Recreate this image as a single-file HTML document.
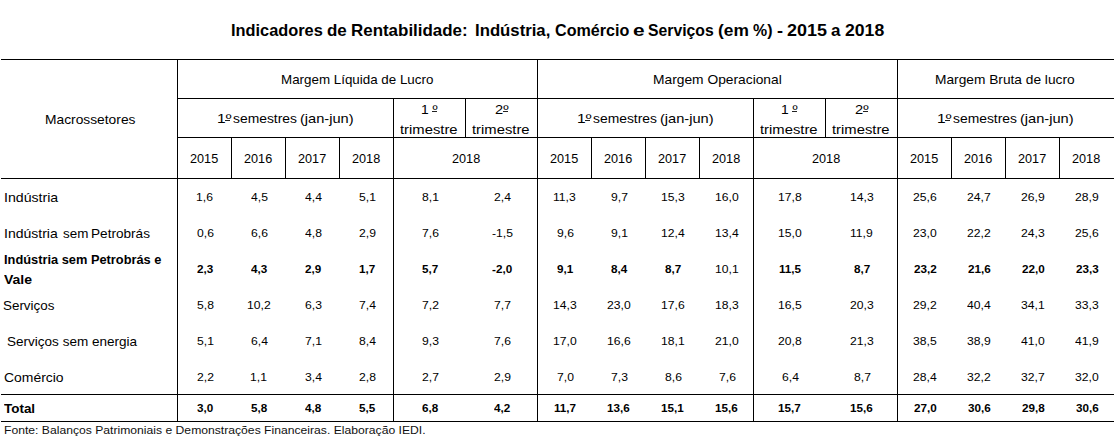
<!DOCTYPE html>
<html lang="pt"><head><meta charset="utf-8"><title>Indicadores de Rentabilidade</title>
<style>
html,body{margin:0;padding:0;background:#fff}
#c{position:relative;width:1114px;height:439px;overflow:hidden;background:#fff;font-family:"Liberation Sans",sans-serif;color:#000}
.h,.v{position:absolute;background:#000}
.h{height:1px}
.v{width:1px}
.t{position:absolute;white-space:pre;line-height:1;display:block;transform-origin:0 50%}
.b{font-weight:700}
</style></head><body>
<div id="c">
<div class="h" style="left:1px;top:59px;width:1113px"></div>
<div class="h" style="left:177px;top:98px;width:937px"></div>
<div class="h" style="left:177px;top:137px;width:937px"></div>
<div class="h" style="left:1px;top:178px;width:1113px"></div>
<div class="h" style="left:1px;top:394px;width:1113px"></div>
<div class="h" style="left:1px;top:421px;width:1113px"></div>
<div class="v" style="left:177px;top:59px;height:363px"></div>
<div class="v" style="left:537px;top:59px;height:363px"></div>
<div class="v" style="left:897px;top:59px;height:363px"></div>
<div class="v" style="left:393px;top:98px;height:324px"></div>
<div class="v" style="left:753px;top:98px;height:324px"></div>
<div class="v" style="left:465px;top:98px;height:40px"></div>
<div class="v" style="left:825px;top:98px;height:40px"></div>
<div class="v" style="left:231px;top:137px;height:42px"></div>
<div class="v" style="left:285px;top:137px;height:42px"></div>
<div class="v" style="left:339px;top:137px;height:42px"></div>
<div class="v" style="left:591px;top:137px;height:42px"></div>
<div class="v" style="left:645px;top:137px;height:42px"></div>
<div class="v" style="left:699px;top:137px;height:42px"></div>
<div class="v" style="left:951px;top:137px;height:42px"></div>
<div class="v" style="left:1005px;top:137px;height:42px"></div>
<div class="v" style="left:1059px;top:137px;height:42px"></div>
<div class="h" style="left:225.2px;top:120px;width:4.6px;background:#222"></div>
<div class="h" style="left:585.2px;top:120px;width:4.6px;background:#222"></div>
<div class="h" style="left:945.2px;top:120px;width:4.6px;background:#222"></div>
<div class="h" style="left:431.8px;top:111px;width:5.0px;background:#222"></div>
<div class="h" style="left:503.0px;top:111px;width:5.0px;background:#222"></div>
<div class="h" style="left:791.8px;top:111px;width:5.0px;background:#222"></div>
<div class="h" style="left:863.0px;top:111px;width:5.0px;background:#222"></div>
<div class="t b" style="left:230.51px;top:22.03px;font-size:16.5px;transform:scaleX(0.9912);">Indicadores</div>
<div class="t b" style="left:326.93px;top:22.03px;font-size:16.5px;transform:scaleX(1.0278);">de</div>
<div class="t b" style="left:350.77px;top:22.03px;font-size:16.5px;transform:scaleX(1.0261);">Rentabilidade:</div>
<div class="t b" style="left:475.09px;top:22.03px;font-size:16.5px;transform:scaleX(1.0145);">Indústria,</div>
<div class="t b" style="left:555.37px;top:22.03px;font-size:16.5px;transform:scaleX(0.9766);">Comércio</div>
<div class="t b" style="left:632.55px;top:22.03px;font-size:16.5px;transform:scaleX(1.2645);">e</div>
<div class="t b" style="left:648.02px;top:22.03px;font-size:16.5px;transform:scaleX(0.9541);">Serviços</div>
<div class="t b" style="left:717.91px;top:22.03px;font-size:16.5px;transform:scaleX(1.0509);">(em</div>
<div class="t b" style="left:752.72px;top:22.03px;font-size:16.5px;transform:scaleX(0.9653);">%)</div>
<div class="t b" style="left:777.27px;top:22.03px;font-size:16.5px;transform:scaleX(1.1000);">-</div>
<div class="t b" style="left:787.26px;top:22.03px;font-size:16.5px;transform:scaleX(1.0881);">2015</div>
<div class="t b" style="left:830.89px;top:22.03px;font-size:16.5px;transform:scaleX(1.0286);">a</div>
<div class="t b" style="left:844.67px;top:22.03px;font-size:16.5px;transform:scaleX(1.0685);">2018</div>
<div class="t" style="left:44.65px;top:112.83px;font-size:13.2px;transform:scaleX(1.0459);">Macrossetores</div>
<div class="t" style="left:280.89px;top:72.83px;font-size:13.2px;transform:scaleX(1.0138);">Margem Líquida de Lucro</div>
<div class="t" style="left:652.55px;top:72.83px;font-size:13.2px;transform:scaleX(1.0458);">Margem Operacional</div>
<div class="t" style="left:935.06px;top:72.83px;font-size:13.2px;transform:scaleX(1.0408);">Margem Bruta de lucro</div>
<div class="t" style="left:217.02px;top:111.83px;font-size:13.2px;transform:scaleX(1.1818);">1º</div>
<div class="t" style="left:233.27px;top:111.83px;font-size:13.2px;transform:scaleX(1.0510);">semestres</div>
<div class="t" style="left:300.07px;top:111.83px;font-size:13.2px;transform:scaleX(1.1080);">(jan-jun)</div>
<div class="t" style="left:577.02px;top:111.83px;font-size:13.2px;transform:scaleX(1.1818);">1º</div>
<div class="t" style="left:593.27px;top:111.83px;font-size:13.2px;transform:scaleX(1.0510);">semestres</div>
<div class="t" style="left:660.07px;top:111.83px;font-size:13.2px;transform:scaleX(1.1080);">(jan-jun)</div>
<div class="t" style="left:937.02px;top:111.83px;font-size:13.2px;transform:scaleX(1.1818);">1º</div>
<div class="t" style="left:953.27px;top:111.83px;font-size:13.2px;transform:scaleX(1.0510);">semestres</div>
<div class="t" style="left:1020.07px;top:111.83px;font-size:13.2px;transform:scaleX(1.1080);">(jan-jun)</div>
<div class="t" style="left:420.65px;top:102.83px;font-size:13.2px;transform:scaleX(1.0508);">1 º</div>
<div class="t" style="left:400.42px;top:122.83px;font-size:13.2px;transform:scaleX(1.1228);">trimestre</div>
<div class="t" style="left:494.77px;top:102.83px;font-size:13.2px;transform:scaleX(1.1111);">2º</div>
<div class="t" style="left:472.42px;top:122.83px;font-size:13.2px;transform:scaleX(1.1228);">trimestre</div>
<div class="t" style="left:780.65px;top:102.83px;font-size:13.2px;transform:scaleX(1.0508);">1 º</div>
<div class="t" style="left:760.42px;top:122.83px;font-size:13.2px;transform:scaleX(1.1228);">trimestre</div>
<div class="t" style="left:854.77px;top:102.83px;font-size:13.2px;transform:scaleX(1.1111);">2º</div>
<div class="t" style="left:832.42px;top:122.83px;font-size:13.2px;transform:scaleX(1.1228);">trimestre</div>
<div class="t" style="left:189.76px;top:152.0px;font-size:13.0px;transform:scaleX(0.9750);">2015</div>
<div class="t" style="left:243.76px;top:152.0px;font-size:13.0px;transform:scaleX(0.9750);">2016</div>
<div class="t" style="left:297.76px;top:152.0px;font-size:13.0px;transform:scaleX(0.9750);">2017</div>
<div class="t" style="left:351.76px;top:152.0px;font-size:13.0px;transform:scaleX(0.9750);">2018</div>
<div class="t" style="left:549.76px;top:152.0px;font-size:13.0px;transform:scaleX(0.9750);">2015</div>
<div class="t" style="left:603.76px;top:152.0px;font-size:13.0px;transform:scaleX(0.9750);">2016</div>
<div class="t" style="left:657.76px;top:152.0px;font-size:13.0px;transform:scaleX(0.9750);">2017</div>
<div class="t" style="left:711.76px;top:152.0px;font-size:13.0px;transform:scaleX(0.9750);">2018</div>
<div class="t" style="left:909.76px;top:152.0px;font-size:13.0px;transform:scaleX(0.9750);">2015</div>
<div class="t" style="left:963.76px;top:152.0px;font-size:13.0px;transform:scaleX(0.9750);">2016</div>
<div class="t" style="left:1017.76px;top:152.0px;font-size:13.0px;transform:scaleX(0.9750);">2017</div>
<div class="t" style="left:1071.76px;top:152.0px;font-size:13.0px;transform:scaleX(0.9750);">2018</div>
<div class="t" style="left:451.86px;top:152.0px;font-size:13.0px;transform:scaleX(0.9750);">2018</div>
<div class="t" style="left:811.86px;top:152.0px;font-size:13.0px;transform:scaleX(0.9750);">2018</div>
<div class="t" style="left:4.06px;top:190.83px;font-size:13.2px;transform:scaleX(1.0721);">Indústria</div>
<div class="t" style="left:196.37px;top:192.01px;font-size:11.8px;transform:scaleX(1.0300);">1,6</div>
<div class="t" style="left:250.63px;top:192.01px;font-size:11.8px;transform:scaleX(1.0300);">4,5</div>
<div class="t" style="left:304.63px;top:192.01px;font-size:11.8px;transform:scaleX(1.0300);">4,4</div>
<div class="t" style="left:358.63px;top:192.01px;font-size:11.8px;transform:scaleX(1.0300);">5,1</div>
<div class="t" style="left:421.63px;top:192.01px;font-size:11.8px;transform:scaleX(1.0300);">8,1</div>
<div class="t" style="left:493.50px;top:192.01px;font-size:11.8px;transform:scaleX(1.0300);">2,4</div>
<div class="t" style="left:553.41px;top:192.01px;font-size:11.8px;transform:scaleX(1.0300);">11,3</div>
<div class="t" style="left:610.63px;top:192.01px;font-size:11.8px;transform:scaleX(1.0300);">9,7</div>
<div class="t" style="left:660.90px;top:192.01px;font-size:11.8px;transform:scaleX(1.0300);">15,3</div>
<div class="t" style="left:714.90px;top:192.01px;font-size:11.8px;transform:scaleX(1.0300);">16,0</div>
<div class="t" style="left:777.90px;top:192.01px;font-size:11.8px;transform:scaleX(1.0300);">17,8</div>
<div class="t" style="left:849.90px;top:192.01px;font-size:11.8px;transform:scaleX(1.0300);">14,3</div>
<div class="t" style="left:913.15px;top:192.01px;font-size:11.8px;transform:scaleX(1.0300);">25,6</div>
<div class="t" style="left:967.28px;top:192.01px;font-size:11.8px;transform:scaleX(1.0300);">24,7</div>
<div class="t" style="left:1021.15px;top:192.01px;font-size:11.8px;transform:scaleX(1.0300);">26,9</div>
<div class="t" style="left:1075.15px;top:192.01px;font-size:11.8px;transform:scaleX(1.0300);">28,9</div>
<div class="t" style="left:4.07px;top:226.83px;font-size:13.2px;transform:scaleX(1.0619);">Indústria</div>
<div class="t" style="left:62.59px;top:226.83px;font-size:13.2px;transform:scaleX(1.0170);">sem</div>
<div class="t" style="left:91.47px;top:226.83px;font-size:13.2px;transform:scaleX(1.0314);">Petrobrás</div>
<div class="t" style="left:196.63px;top:228.01px;font-size:11.8px;transform:scaleX(1.0300);">0,6</div>
<div class="t" style="left:250.63px;top:228.01px;font-size:11.8px;transform:scaleX(1.0300);">6,6</div>
<div class="t" style="left:304.76px;top:228.01px;font-size:11.8px;transform:scaleX(1.0300);">4,8</div>
<div class="t" style="left:358.63px;top:228.01px;font-size:11.8px;transform:scaleX(1.0300);">2,9</div>
<div class="t" style="left:421.63px;top:228.01px;font-size:11.8px;transform:scaleX(1.0300);">7,6</div>
<div class="t" style="left:491.57px;top:228.01px;font-size:11.8px;transform:scaleX(1.0300);">-1,5</div>
<div class="t" style="left:556.63px;top:228.01px;font-size:11.8px;transform:scaleX(1.0300);">9,6</div>
<div class="t" style="left:610.63px;top:228.01px;font-size:11.8px;transform:scaleX(1.0300);">9,1</div>
<div class="t" style="left:660.90px;top:228.01px;font-size:11.8px;transform:scaleX(1.0300);">12,4</div>
<div class="t" style="left:714.90px;top:228.01px;font-size:11.8px;transform:scaleX(1.0300);">13,4</div>
<div class="t" style="left:777.90px;top:228.01px;font-size:11.8px;transform:scaleX(1.0300);">15,0</div>
<div class="t" style="left:850.41px;top:228.01px;font-size:11.8px;transform:scaleX(1.0300);">11,9</div>
<div class="t" style="left:913.15px;top:228.01px;font-size:11.8px;transform:scaleX(1.0300);">23,0</div>
<div class="t" style="left:967.28px;top:228.01px;font-size:11.8px;transform:scaleX(1.0300);">22,2</div>
<div class="t" style="left:1021.15px;top:228.01px;font-size:11.8px;transform:scaleX(1.0300);">24,3</div>
<div class="t" style="left:1075.15px;top:228.01px;font-size:11.8px;transform:scaleX(1.0300);">25,6</div>
<div class="t b" style="left:196.83px;top:264.01px;font-size:11.8px;transform:scaleX(0.9900);">2,3</div>
<div class="t b" style="left:250.96px;top:264.01px;font-size:11.8px;transform:scaleX(0.9900);">4,3</div>
<div class="t b" style="left:304.83px;top:264.01px;font-size:11.8px;transform:scaleX(0.9900);">2,9</div>
<div class="t b" style="left:358.71px;top:264.01px;font-size:11.8px;transform:scaleX(0.9900);">1,7</div>
<div class="t b" style="left:421.83px;top:264.01px;font-size:11.8px;transform:scaleX(0.9900);">5,7</div>
<div class="t b" style="left:491.98px;top:264.01px;font-size:11.8px;transform:scaleX(0.9900);">-2,0</div>
<div class="t b" style="left:556.83px;top:264.01px;font-size:11.8px;transform:scaleX(0.9900);">9,1</div>
<div class="t b" style="left:610.71px;top:264.01px;font-size:11.8px;transform:scaleX(0.9900);">8,4</div>
<div class="t b" style="left:664.83px;top:264.01px;font-size:11.8px;transform:scaleX(0.9900);">8,7</div>
<div class="t" style="left:714.90px;top:264.01px;font-size:11.8px;transform:scaleX(1.0300);">10,1</div>
<div class="t b" style="left:778.74px;top:264.01px;font-size:11.8px;transform:scaleX(0.9900);">11,5</div>
<div class="t b" style="left:853.83px;top:264.01px;font-size:11.8px;transform:scaleX(0.9900);">8,7</div>
<div class="t b" style="left:913.62px;top:264.01px;font-size:11.8px;transform:scaleX(0.9900);">23,2</div>
<div class="t b" style="left:967.62px;top:264.01px;font-size:11.8px;transform:scaleX(0.9900);">21,6</div>
<div class="t b" style="left:1021.62px;top:264.01px;font-size:11.8px;transform:scaleX(0.9900);">22,0</div>
<div class="t b" style="left:1075.62px;top:264.01px;font-size:11.8px;transform:scaleX(0.9900);">23,3</div>
<div class="t" style="left:3.24px;top:298.83px;font-size:13.2px;transform:scaleX(1.0152);">Serviços</div>
<div class="t" style="left:196.63px;top:300.01px;font-size:11.8px;transform:scaleX(1.0300);">5,8</div>
<div class="t" style="left:247.03px;top:300.01px;font-size:11.8px;transform:scaleX(1.0300);">10,2</div>
<div class="t" style="left:304.63px;top:300.01px;font-size:11.8px;transform:scaleX(1.0300);">6,3</div>
<div class="t" style="left:358.50px;top:300.01px;font-size:11.8px;transform:scaleX(1.0300);">7,4</div>
<div class="t" style="left:421.63px;top:300.01px;font-size:11.8px;transform:scaleX(1.0300);">7,2</div>
<div class="t" style="left:493.63px;top:300.01px;font-size:11.8px;transform:scaleX(1.0300);">7,7</div>
<div class="t" style="left:552.90px;top:300.01px;font-size:11.8px;transform:scaleX(1.0300);">14,3</div>
<div class="t" style="left:607.15px;top:300.01px;font-size:11.8px;transform:scaleX(1.0300);">23,0</div>
<div class="t" style="left:660.90px;top:300.01px;font-size:11.8px;transform:scaleX(1.0300);">17,6</div>
<div class="t" style="left:714.90px;top:300.01px;font-size:11.8px;transform:scaleX(1.0300);">18,3</div>
<div class="t" style="left:777.90px;top:300.01px;font-size:11.8px;transform:scaleX(1.0300);">16,5</div>
<div class="t" style="left:850.15px;top:300.01px;font-size:11.8px;transform:scaleX(1.0300);">20,3</div>
<div class="t" style="left:913.28px;top:300.01px;font-size:11.8px;transform:scaleX(1.0300);">29,2</div>
<div class="t" style="left:967.28px;top:300.01px;font-size:11.8px;transform:scaleX(1.0300);">40,4</div>
<div class="t" style="left:1021.15px;top:300.01px;font-size:11.8px;transform:scaleX(1.0300);">34,1</div>
<div class="t" style="left:1075.15px;top:300.01px;font-size:11.8px;transform:scaleX(1.0300);">33,3</div>
<div class="t" style="left:6.98px;top:334.83px;font-size:13.2px;transform:scaleX(1.0258);">Serviços sem energia</div>
<div class="t" style="left:196.63px;top:336.01px;font-size:11.8px;transform:scaleX(1.0300);">5,1</div>
<div class="t" style="left:250.50px;top:336.01px;font-size:11.8px;transform:scaleX(1.0300);">6,4</div>
<div class="t" style="left:304.63px;top:336.01px;font-size:11.8px;transform:scaleX(1.0300);">7,1</div>
<div class="t" style="left:358.50px;top:336.01px;font-size:11.8px;transform:scaleX(1.0300);">8,4</div>
<div class="t" style="left:421.63px;top:336.01px;font-size:11.8px;transform:scaleX(1.0300);">9,3</div>
<div class="t" style="left:493.63px;top:336.01px;font-size:11.8px;transform:scaleX(1.0300);">7,6</div>
<div class="t" style="left:552.90px;top:336.01px;font-size:11.8px;transform:scaleX(1.0300);">17,0</div>
<div class="t" style="left:606.90px;top:336.01px;font-size:11.8px;transform:scaleX(1.0300);">16,6</div>
<div class="t" style="left:660.90px;top:336.01px;font-size:11.8px;transform:scaleX(1.0300);">18,1</div>
<div class="t" style="left:715.15px;top:336.01px;font-size:11.8px;transform:scaleX(1.0300);">21,0</div>
<div class="t" style="left:778.15px;top:336.01px;font-size:11.8px;transform:scaleX(1.0300);">20,8</div>
<div class="t" style="left:850.15px;top:336.01px;font-size:11.8px;transform:scaleX(1.0300);">21,3</div>
<div class="t" style="left:913.15px;top:336.01px;font-size:11.8px;transform:scaleX(1.0300);">38,5</div>
<div class="t" style="left:967.15px;top:336.01px;font-size:11.8px;transform:scaleX(1.0300);">38,9</div>
<div class="t" style="left:1021.28px;top:336.01px;font-size:11.8px;transform:scaleX(1.0300);">41,0</div>
<div class="t" style="left:1075.28px;top:336.01px;font-size:11.8px;transform:scaleX(1.0300);">41,9</div>
<div class="t" style="left:3.51px;top:370.83px;font-size:13.2px;transform:scaleX(1.0564);">Comércio</div>
<div class="t" style="left:196.63px;top:372.01px;font-size:11.8px;transform:scaleX(1.0300);">2,2</div>
<div class="t" style="left:250.37px;top:372.01px;font-size:11.8px;transform:scaleX(1.0300);">1,1</div>
<div class="t" style="left:304.50px;top:372.01px;font-size:11.8px;transform:scaleX(1.0300);">3,4</div>
<div class="t" style="left:358.63px;top:372.01px;font-size:11.8px;transform:scaleX(1.0300);">2,8</div>
<div class="t" style="left:421.63px;top:372.01px;font-size:11.8px;transform:scaleX(1.0300);">2,7</div>
<div class="t" style="left:493.63px;top:372.01px;font-size:11.8px;transform:scaleX(1.0300);">2,9</div>
<div class="t" style="left:556.50px;top:372.01px;font-size:11.8px;transform:scaleX(1.0300);">7,0</div>
<div class="t" style="left:610.63px;top:372.01px;font-size:11.8px;transform:scaleX(1.0300);">7,3</div>
<div class="t" style="left:664.63px;top:372.01px;font-size:11.8px;transform:scaleX(1.0300);">8,6</div>
<div class="t" style="left:718.63px;top:372.01px;font-size:11.8px;transform:scaleX(1.0300);">7,6</div>
<div class="t" style="left:781.50px;top:372.01px;font-size:11.8px;transform:scaleX(1.0300);">6,4</div>
<div class="t" style="left:853.63px;top:372.01px;font-size:11.8px;transform:scaleX(1.0300);">8,7</div>
<div class="t" style="left:913.15px;top:372.01px;font-size:11.8px;transform:scaleX(1.0300);">28,4</div>
<div class="t" style="left:967.28px;top:372.01px;font-size:11.8px;transform:scaleX(1.0300);">32,2</div>
<div class="t" style="left:1021.28px;top:372.01px;font-size:11.8px;transform:scaleX(1.0300);">32,7</div>
<div class="t" style="left:1075.15px;top:372.01px;font-size:11.8px;transform:scaleX(1.0300);">32,0</div>
<div class="t b" style="left:3.75px;top:402.23px;font-size:13.2px;transform:scaleX(1.0188);">Total</div>
<div class="t b" style="left:196.96px;top:403.41px;font-size:11.8px;transform:scaleX(0.9900);">3,0</div>
<div class="t b" style="left:250.83px;top:403.41px;font-size:11.8px;transform:scaleX(0.9900);">5,8</div>
<div class="t b" style="left:304.96px;top:403.41px;font-size:11.8px;transform:scaleX(0.9900);">4,8</div>
<div class="t b" style="left:358.83px;top:403.41px;font-size:11.8px;transform:scaleX(0.9900);">5,5</div>
<div class="t b" style="left:421.83px;top:403.41px;font-size:11.8px;transform:scaleX(0.9900);">6,8</div>
<div class="t b" style="left:493.96px;top:403.41px;font-size:11.8px;transform:scaleX(0.9900);">4,2</div>
<div class="t b" style="left:553.86px;top:403.41px;font-size:11.8px;transform:scaleX(0.9900);">11,7</div>
<div class="t b" style="left:607.49px;top:403.41px;font-size:11.8px;transform:scaleX(0.9900);">13,6</div>
<div class="t b" style="left:661.37px;top:403.41px;font-size:11.8px;transform:scaleX(0.9900);">15,1</div>
<div class="t b" style="left:715.49px;top:403.41px;font-size:11.8px;transform:scaleX(0.9900);">15,6</div>
<div class="t b" style="left:778.49px;top:403.41px;font-size:11.8px;transform:scaleX(0.9900);">15,7</div>
<div class="t b" style="left:850.49px;top:403.41px;font-size:11.8px;transform:scaleX(0.9900);">15,6</div>
<div class="t b" style="left:913.62px;top:403.41px;font-size:11.8px;transform:scaleX(0.9900);">27,0</div>
<div class="t b" style="left:967.74px;top:403.41px;font-size:11.8px;transform:scaleX(0.9900);">30,6</div>
<div class="t b" style="left:1021.62px;top:403.41px;font-size:11.8px;transform:scaleX(0.9900);">29,8</div>
<div class="t b" style="left:1075.74px;top:403.41px;font-size:11.8px;transform:scaleX(0.9900);">30,6</div>
<div class="t b" style="left:3.53px;top:252.83px;font-size:13.2px;transform:scaleX(0.9720);">Indústria sem Petrobrás e</div>
<div class="t b" style="left:3.93px;top:272.83px;font-size:13.2px;transform:scaleX(1.0602);">Vale</div>
<div class="t" style="left:3.60px;top:425.39px;font-size:11px;transform:scaleX(1.1049);color:#111;">Fonte: Balanços Patrimoniais e Demonstrações Financeiras. Elaboração IEDI.</div>
</div>
</body></html>
